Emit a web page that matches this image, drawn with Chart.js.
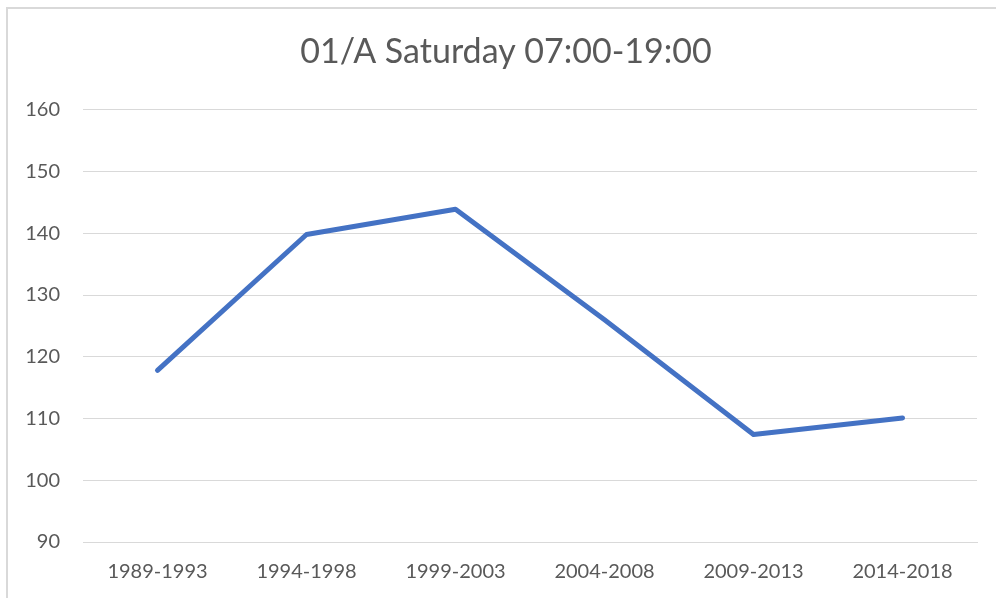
<!DOCTYPE html>
<html>
<head>
<meta charset="utf-8">
<script src="https://cdn.jsdelivr.net/npm/chart.js@4"></script>
<style>
  html, body { margin: 0; padding: 0; background: #fff; }
  .frame {
    position: absolute; left: 6px; top: 7px; width: 1000px; height: 600px;
    border-top: 2px solid #d9d9d9; border-left: 2px solid #d9d9d9;
  }
  .canvas { position: absolute; left: 0; top: 0; width: 996px; height: 598px; }
</style>
</head>
<body>
<div class="frame"></div>
<div class="canvas"><canvas id="trafficChart"></canvas></div>
<script>
const periods = ['1989-1993', '1994-1998', '1999-2003', '2004-2008', '2009-2013', '2014-2018'];
const counts = [117.8, 139.8, 143.9, 126.0, 107.4, 110.1];
const yMin = 90;
const yMax = 160;
const yStep = 10;
const chartTitle = '01/A Saturday 07:00-19:00';

const textColor = '#595959';
const fontFamily = 'Lato, "Liberation Sans", sans-serif';

// nudge the title block so its centre sits where the original has it
const titleShift = {
  id: 'titleShift',
  afterLayout(chart) {
    if (chart.titleBlock) {
      chart.titleBlock.left = 35;
    }
  }
};

const ctx = document.getElementById('trafficChart').getContext('2d');
new Chart(ctx, {
  type: 'line',
  data: {
    labels: periods,
    datasets: [{
      label: 'Saturday',
      data: counts,
      borderColor: '#4472C4',
      borderWidth: 5,
      borderCapStyle: 'round',
      borderJoinStyle: 'round',
      pointRadius: 0,
      pointHoverRadius: 0,
      tension: 0,
      fill: false
    }]
  },
  options: {
    responsive: true,
    maintainAspectRatio: false,
    animation: false,
    layout: {
      padding: { left: 0, right: 19, top: 0, bottom: 0 }
    },
    plugins: {
      legend: { display: false },
      tooltip: { enabled: false },
      title: {
        display: true,
        text: chartTitle,
        color: textColor,
        font: { family: fontFamily, size: 34, weight: 'normal' },
        padding: { top: 32, bottom: 37 }
      }
    },
    scales: {
      x: {
        offset: true,
        grid: { display: false, drawTicks: false },
        border: { display: true, color: '#d9d9d9', width: 1 },
        ticks: {
          color: textColor,
          font: { family: fontFamily, size: 20 },
          padding: 18,
          maxRotation: 0
        },
        afterFit: scale => { scale.height = 56; }
      },
      y: {
        min: yMin,
        max: yMax,
        grid: { color: '#d9d9d9', lineWidth: 1, drawTicks: false },
        border: { display: false },
        ticks: {
          stepSize: yStep,
          color: textColor,
          font: { family: fontFamily, size: 20 },
          padding: 23
        },
        afterFit: scale => { scale.width = 83; }
      }
    }
  },
  plugins: [titleShift]
});
</script>
</body>
</html>
